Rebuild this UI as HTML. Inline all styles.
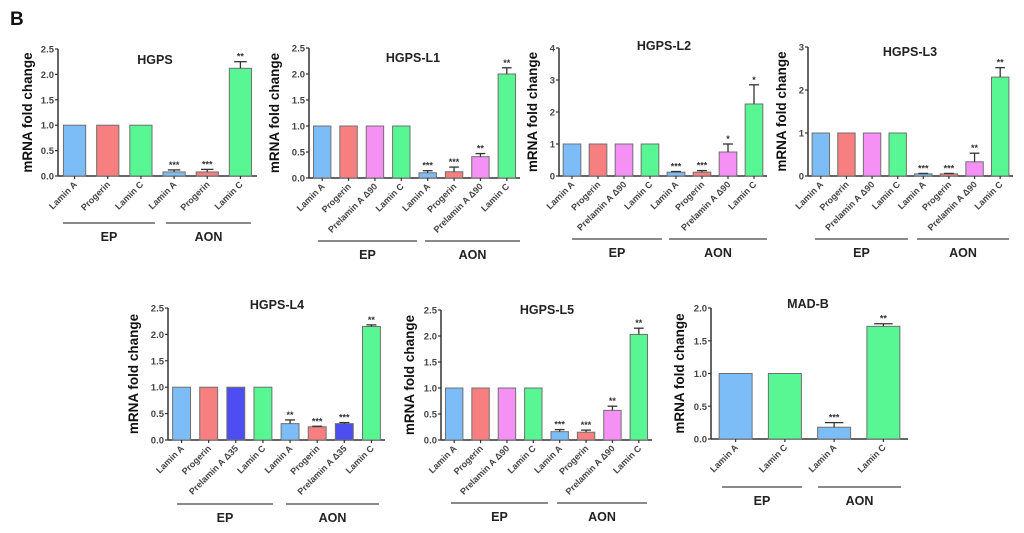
<!DOCTYPE html>
<html><head><meta charset="utf-8">
<style>
html,body{margin:0;padding:0;background:#fff;}
svg{display:block;font-family:"Liberation Sans",sans-serif;}
</style></head>
<body>
<svg id="fig" width="1024" height="533" viewBox="0 0 1024 533" xmlns="http://www.w3.org/2000/svg">
<text x="10" y="25" font-size="19" font-weight="bold" fill="#111">B</text>
</svg>
<script>
// ---- data ----
const titles = ["HGPS","HGPS-L1","HGPS-L2","HGPS-L3","HGPS-L4","HGPS-L5","MAD-B"];
const catsHGPS = ["Lamin A","Progerin","Lamin C","Lamin A","Progerin","Lamin C"];
const cats90 = ["Lamin A","Progerin","Prelamin A \u039490","Lamin C","Lamin A","Progerin","Prelamin A \u039490","Lamin C"];
const cats35 = ["Lamin A","Progerin","Prelamin A \u039435","Lamin C","Lamin A","Progerin","Prelamin A \u039435","Lamin C"];
const catsMAD = ["Lamin A","Lamin C","Lamin A","Lamin C"];
const valsHGPS = [1,1,1,0.08,0.08,2.12];
const errHGPS = [0,0,0,0.12,0.13,2.25];
const starsHGPS = ["","","","***","***","**"];
const valsL1 = [1,1,1,1,0.1,0.12,0.41,2.0];
const errL1 = [0,0,0,0,0.14,0.21,0.47,2.12];
const starsL1 = ["","","","","***","***","**","**"];
const valsL2 = [1,1,1,1,0.12,0.12,0.75,2.25];
const errL2 = [0,0,0,0,0.14,0.17,1.0,2.85];
const starsL2 = ["","","","","***","***","*","*"];
const valsL3 = [1,1,1,1,0.05,0.05,0.33,2.3];
const errL3 = [0,0,0,0,0.06,0.06,0.53,2.52];
const starsL3 = ["","","","","***","***","**","**"];
const valsL4 = [1,1,1,1,0.31,0.25,0.31,2.15];
const errL4 = [0,0,0,0,0.38,0.26,0.33,2.18];
const starsL4 = ["","","","","**","***","***","**"];
const valsL5 = [1,1,1,1,0.16,0.15,0.57,2.03];
const errL5 = [0,0,0,0,0.2,0.19,0.65,2.15];
const starsL5 = ["","","","","***","***","**","**"];
const valsMAD = [1,1,0.18,1.72];
const errMAD = [0,0,0.25,1.76];
const starsMAD = ["","","***","**"];
const ticks25 = ["0.0","0.5","1.0","1.5","2.0","2.5"];
const ticks4 = ["0","1","2","3","4"];
const ticks3 = ["0","1","2","3"];
const ticks2 = ["0.0","0.5","1.0","1.5","2.0"];

const C = {b:"#7dbdf7",r:"#f77f7f",p:"#f590f5",g:"#58f794",d:"#4d4df2"};
const svg = document.getElementById('fig');
const NS = "http://www.w3.org/2000/svg";
function mk(tag, attrs, parent){
  const e = document.createElementNS(NS, tag);
  for (const k in attrs) e.setAttribute(k, attrs[k]);
  (parent||svg).appendChild(e);
  return e;
}
function panel(p){
  const g = mk('g', {});
  
  
  const n = p.vals.length;
  const max = parseFloat(p.ticks[p.ticks.length-1]);
  const y = v => p.y0 - (v/max)*(p.y0 - p.yTop);
  const band = (p.x1 - p.ax) / n;
  const bx = i => p.ax + band*(i+0.5);
  // axes
  const ya = mk('line',{x1:p.ax,y1:p.yTop,x2:p.ax,y2:p.y0,stroke:"#333","stroke-width":1.5},g);
  
  
  const xa = mk('line',{x1:p.ax,y1:p.y0,x2:p.x1,y2:p.y0,stroke:"#333","stroke-width":1.5},g);
  
  
  p.ticks.forEach(t=>{
    const v = parseFloat(t), yy = y(v);
    mk('line',{x1:p.ax-3,y1:yy,x2:p.ax,y2:yy,stroke:"#333","stroke-width":1.2},g);
    const tl = mk('text',{x:p.ax-4,y:yy+3.5,"font-size":9.5,"font-weight":"bold",fill:"#444","text-anchor":"end"},g);
    tl.textContent = t;
    
    
  });
  // y title
  const yt = mk('text',{x:0,y:0,"font-size":13.5,"font-weight":"bold",fill:"#111","text-anchor":"middle",transform:`translate(${p.ax-p.ylOff},${(p.yTop+p.y0)/2}) rotate(-90)`},g);
  yt.textContent = "mRNA fold change";
  
  
  // title
  const tt = mk('text',{x:p.tx,y:p.ty,"font-size":12.5,"font-weight":"bold",fill:"#222","text-anchor":"middle"},g);
  tt.textContent = p.title;
  
  
  const bw = band*p.bwf;
  p.vals.forEach((v,i)=>{
    const cx = bx(i);
    const r = mk('rect',{x:cx-bw/2,y:y(v),width:bw,height:p.y0-y(v),fill:p.colors[i],stroke:"#707070","stroke-width":1},g);
    
    
    if (p.err[i] > v){
      mk('line',{x1:cx,y1:y(v),x2:cx,y2:y(p.err[i]),stroke:"#333","stroke-width":1.3},g);
      mk('line',{x1:cx-bw*0.28,y1:y(p.err[i]),x2:cx+bw*0.28,y2:y(p.err[i]),stroke:"#333","stroke-width":1.3},g);
    }
    if (p.stars[i]){
      const s = mk('text',{x:cx,y:y(Math.max(p.err[i],v))-2,"font-size":9,"font-weight":"bold",fill:"#333","text-anchor":"middle"},g);
      s.textContent = p.stars[i];
      
      
    }
    mk('line',{x1:cx,y1:p.y0,x2:cx,y2:p.y0+3,stroke:"#333","stroke-width":1.2},g);
    const xl = mk('text',{x:0,y:0,"font-size":9,"font-weight":"bold",fill:"#444","text-anchor":"end",transform:`translate(${cx+3},${p.y0+9}) rotate(-45)`},g);
    xl.textContent = p.cats[i];
    
    
  });
  // groups
  [["EP",p.ep],["AON",p.aon]].forEach(([lab,r])=>{
    mk('line',{x1:r[0],y1:p.gy,x2:r[1],y2:p.gy,stroke:"#444","stroke-width":1.3},g);
    const gl = mk('text',{x:(r[0]+r[1])/2,y:p.gy+18,"font-size":12.5,"font-weight":"bold",fill:"#222","text-anchor":"middle"},g);
    gl.textContent = lab;
    
    
  });
}
const col8 = [C.b,C.r,C.p,C.g,C.b,C.r,C.p,C.g];
panel({title:titles[0],cats:catsHGPS,vals:valsHGPS,err:errHGPS,stars:starsHGPS,ticks:ticks25,colors:[C.b,C.r,C.g,C.b,C.r,C.g],
  ax:58,x1:257,yTop:49,y0:176,ylOff:26,tx:155,ty:64,bwf:0.67,gy:223,ep:[63,155],aon:[166,251]});
panel({title:titles[1],cats:cats90,vals:valsL1,err:errL1,stars:starsL1,ticks:ticks25,colors:col8,
  ax:309,x1:520,yTop:48,y0:178,ylOff:30,tx:413,ty:62,bwf:0.66,gy:241,ep:[318,417],aon:[425,520]});
panel({title:titles[2],cats:cats90,vals:valsL2,err:errL2,stars:starsL2,ticks:ticks4,colors:col8,
  ax:559,x1:767,yTop:48,y0:176,ylOff:22,tx:664,ty:50,bwf:0.68,gy:239,ep:[572,662],aon:[669,767]});
panel({title:titles[3],cats:cats90,vals:valsL3,err:errL3,stars:starsL3,ticks:ticks3,colors:col8,
  ax:808,x1:1013,yTop:47,y0:176,ylOff:22,tx:910,ty:56,bwf:0.68,gy:239,ep:[815,908],aon:[917,1009]});
panel({title:titles[4],cats:cats35,vals:valsL4,err:errL4,stars:starsL4,ticks:ticks25,colors:[C.b,C.r,C.d,C.g,C.b,C.r,C.d,C.g],
  ax:168,x1:385,yTop:308,y0:440,ylOff:30,tx:277,ty:309,bwf:0.66,gy:504,ep:[177,273],aon:[286,379]});
panel({title:titles[5],cats:cats90,vals:valsL5,err:errL5,stars:starsL5,ticks:ticks25,colors:col8,
  ax:441,x1:652,yTop:310,y0:440,ylOff:27,tx:547,ty:314,bwf:0.66,gy:503,ep:[451,548],aon:[557,647]});
panel({title:titles[6],cats:catsMAD,vals:valsMAD,err:errMAD,stars:starsMAD,ticks:ticks2,colors:[C.b,C.g,C.b,C.g],
  ax:711,x1:908,yTop:308,y0:439,ylOff:27,tx:808,ty:308,bwf:0.67,gy:487,ep:[722,802],aon:[818,901]});
</script>
</body></html>
